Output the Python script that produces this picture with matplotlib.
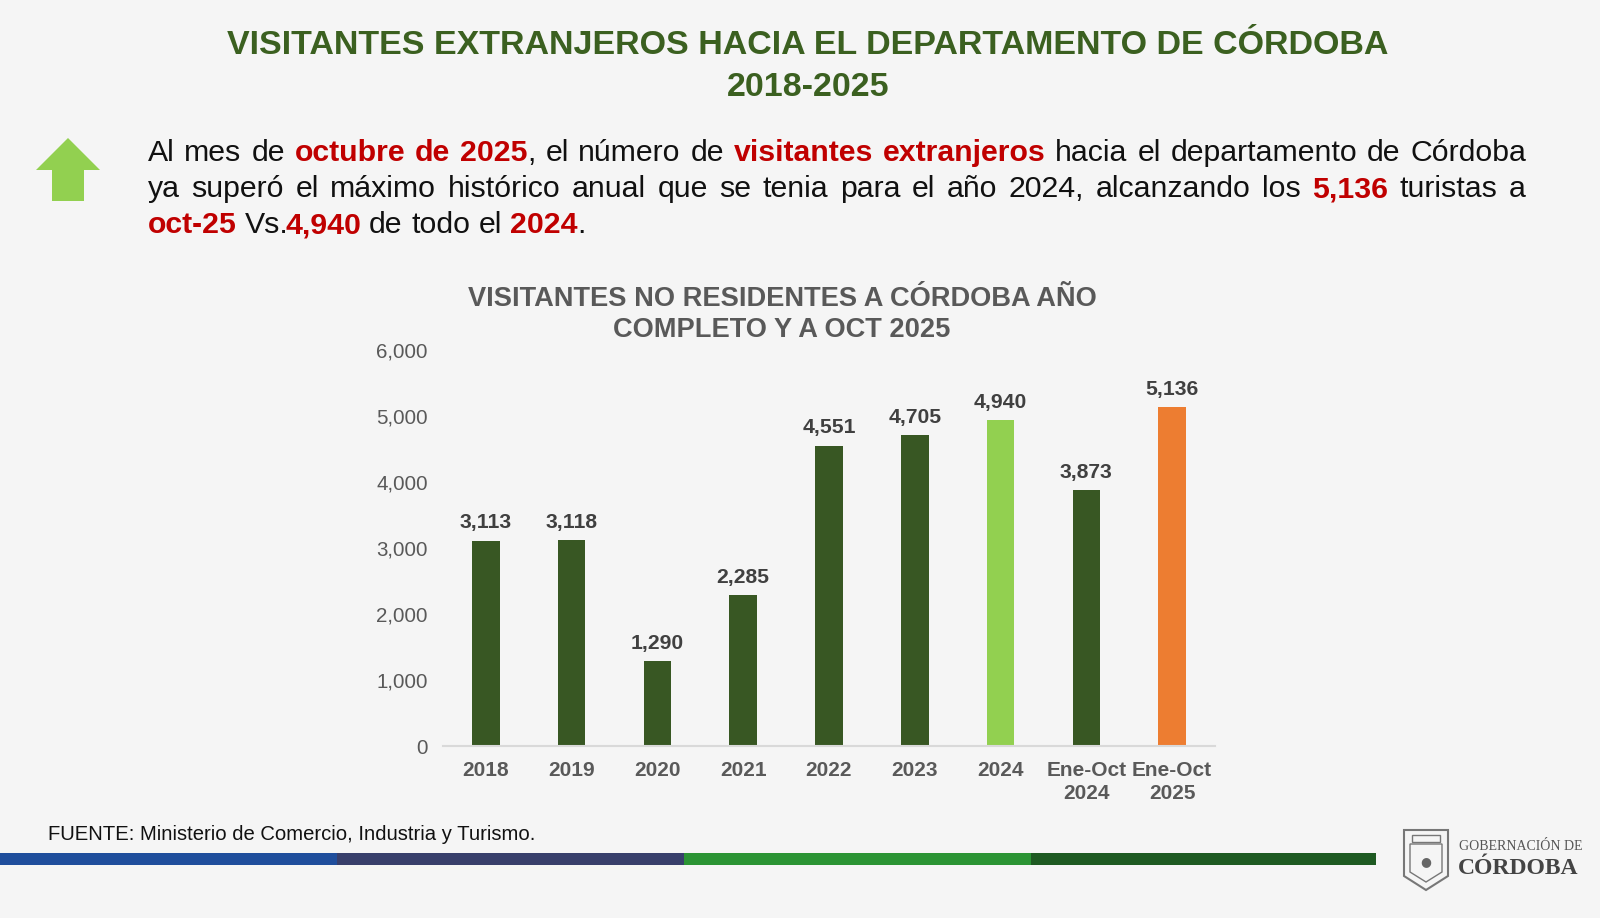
import matplotlib
matplotlib.use("Agg")
import matplotlib.pyplot as plt
from matplotlib.patches import Polygon, Rectangle

# data
categorias = ["2018", "2019", "2020", "2021", "2022", "2023", "2024", "Ene-Oct\n2024", "Ene-Oct\n2025"]
visitantes = [3113, 3118, 1290, 2285, 4551, 4705, 4940, 3873, 5136]
colores = ["#385723", "#385723", "#385723", "#385723", "#385723", "#385723",
           "#92d050", "#385723", "#ed7d31"]
yticks = [0, 1000, 2000, 3000, 4000, 5000, 6000]

W, H = 1600, 918
BG = "#f5f5f5"
RED = "#c00000"
FONT = "Liberation Sans"
GREEN_T = "#3b6020"

fig = plt.figure(figsize=(W / 100, H / 100), dpi=100, facecolor=BG)


def fx(x):
    return x / W


def fy(y):
    return 1 - y / H


# titulo principal
fig.text(fx(808), fy(46), "VISITANTES EXTRANJEROS HACIA EL DEPARTAMENTO DE CÓRDOBA",
         ha="center", va="center", fontsize=24.5, fontweight="bold", color=GREEN_T, family=FONT)
fig.text(fx(808), fy(88), "2018-2025",
         ha="center", va="center", fontsize=24.5, fontweight="bold", color=GREEN_T, family=FONT)

# flecha verde
flecha = [(68, 138), (100, 170), (84, 170), (84, 201), (52, 201), (52, 170), (36, 170)]
fig.patches.append(Polygon([(fx(x), fy(y)) for x, y in flecha], closed=True,
                           transform=fig.transFigure, facecolor="#92d050", edgecolor="none"))

# parrafo justificado con partes en rojo
K = "#111111"
lineas = [
    [[("Al", K, 0)], [("mes", K, 0)], [("de", K, 0)], [("octubre", RED, 1)], [("de", RED, 1)],
     [("2025", RED, 1), (",", K, 0)], [("el", K, 0)], [("número", K, 0)], [("de", K, 0)],
     [("visitantes", RED, 1)], [("extranjeros", RED, 1)], [("hacia", K, 0)], [("el", K, 0)],
     [("departamento", K, 0)], [("de", K, 0)], [("Córdoba", K, 0)]],
    [[(w, K, 0)] for w in "ya superó el máximo histórico anual que se tenia para el año 2024, alcanzando los".split()]
    + [[("5,136", RED, 1)], [("turistas", K, 0)], [("a", K, 0)]],
    [[("oct-25", RED, 1)], [("Vs.", K, 0), ("4,940", RED, 1)], [("de", K, 0)], [("todo", K, 0)],
     [("el", K, 0)], [("2024", RED, 1), (".", K, 0)]],
]
baselines = [161, 197, 233]
x_izq, x_der = 148, 1526
fs_body = 21.8

renderer = fig.canvas.get_renderer()


def ancho(t):
    return t.get_window_extent(renderer).width


probe1 = fig.text(0, 0, "n n", fontsize=fs_body, family=FONT)
probe2 = fig.text(0, 0, "nn", fontsize=fs_body, family=FONT)
esp = ancho(probe1) - ancho(probe2)
probe1.remove()
probe2.remove()


def avance(t, ultimo):
    # "Vs." medido queda con aire de mas antes de la cifra
    w = ancho(t)
    if not ultimo and t.get_text().endswith("."):
        w -= 4
    return w


for i, linea in enumerate(lineas):
    palabras = []
    for palabra in linea:
        partes = []
        for txt, col, b in palabra:
            t = fig.text(0, fy(baselines[i]), txt, fontsize=fs_body, color=col, family=FONT,
                         fontweight="bold" if b else "normal", va="baseline", ha="left")
            partes.append(t)
        palabras.append(partes)
    anchos = [sum(avance(t, k == len(p) - 1) for k, t in enumerate(p)) for p in palabras]
    if i < len(lineas) - 1:
        gap = (x_der - x_izq - sum(anchos)) / (len(palabras) - 1)
    else:
        gap = esp
    x = x_izq
    for partes, a in zip(palabras, anchos):
        xx = x
        for k, t in enumerate(partes):
            t.set_x(fx(xx))
            xx += avance(t, k == len(partes) - 1)
        x += a + gap

# grafico de barras
fig.text(fx(782), fy(299), "VISITANTES NO RESIDENTES A CÓRDOBA AÑO", ha="center", va="center",
         fontsize=19.6, fontweight="bold", color="#595959", family=FONT)
fig.text(fx(782), fy(330), "COMPLETO Y A OCT 2025", ha="center", va="center",
         fontsize=19.6, fontweight="bold", color="#595959", family=FONT)

ax = fig.add_axes([443 / W, 1 - 746 / H, 772 / W, 396 / H])
ax.set_facecolor(BG)
pos = list(range(len(categorias)))
bars = ax.bar(pos, visitantes, width=0.32, color=colores)
ax.set_xlim(-0.5, len(categorias) - 0.5)
ax.set_ylim(0, 6000)
ax.set_yticks(yticks)
ax.set_yticklabels([f"{v:,}" for v in yticks], fontsize=14.8, color="#595959", family=FONT)
ax.set_xticks(pos)
ax.set_xticklabels(categorias, fontsize=15, fontweight="bold", color="#595959", family=FONT,
                   linespacing=1.25)
ax.tick_params(axis="both", length=0)
ax.tick_params(axis="y", pad=11)
ax.tick_params(axis="x", pad=11)
for s in ["top", "right", "left"]:
    ax.spines[s].set_visible(False)
ax.spines["bottom"].set_color("#d9d9d9")
ax.spines["bottom"].set_linewidth(1.5)

for b, v in zip(bars, visitantes):
    ax.annotate(f"{v:,}", (b.get_x() + b.get_width() / 2, v), xytext=(0, 6),
                textcoords="offset points", ha="center", va="bottom",
                fontsize=15.2, fontweight="bold", color="#404040", family=FONT)

# fuente
fig.text(fx(48), fy(835), "FUENTE: Ministerio de Comercio, Industria y Turismo.",
         ha="left", va="center", fontsize=14.6, color="#111111", family=FONT)

# franja de colores
franjas = [(0, 337, "#1f4e9c"), (337, 684, "#383f6b"), (684, 1031, "#2b9434"), (1031, 1376, "#1e5a22")]
for x0, x1, c in franjas:
    fig.patches.append(Rectangle((fx(x0), fy(865)), (x1 - x0) / W, 12 / H,
                                 transform=fig.transFigure, facecolor=c, edgecolor="none"))

# logo
escudo = [(1404, 830), (1448, 830), (1448, 876), (1426, 890), (1404, 876)]
fig.patches.append(Polygon([(fx(x), fy(y)) for x, y in escudo], closed=True,
                           transform=fig.transFigure, facecolor="none", edgecolor="#777777", lw=1.5))
interior = [(1410, 844), (1442, 844), (1442, 872), (1426, 882), (1410, 872)]
fig.patches.append(Polygon([(fx(x), fy(y)) for x, y in interior], closed=True,
                           transform=fig.transFigure, facecolor="none", edgecolor="#777777", lw=1))
fig.patches.append(Rectangle((fx(1412), fy(842)), 28 / W, 7 / H, transform=fig.transFigure,
                             facecolor="none", edgecolor="#777777", lw=1))
fig.text(fx(1426), fy(862), "●", ha="center", va="center", fontsize=9, color="#666666",
         family="DejaVu Sans")
fig.text(fx(1459), fy(846), "GOBERNACIÓN DE", ha="left", va="center", fontsize=10,
         color="#555555", family="Liberation Serif")
fig.text(fx(1458), fy(868), "CÓRDOBA", ha="left", va="center", fontsize=17, fontweight="bold",
         color="#444444", family="Liberation Serif")

fig.savefig("out.png", dpi=100, facecolor=BG)
